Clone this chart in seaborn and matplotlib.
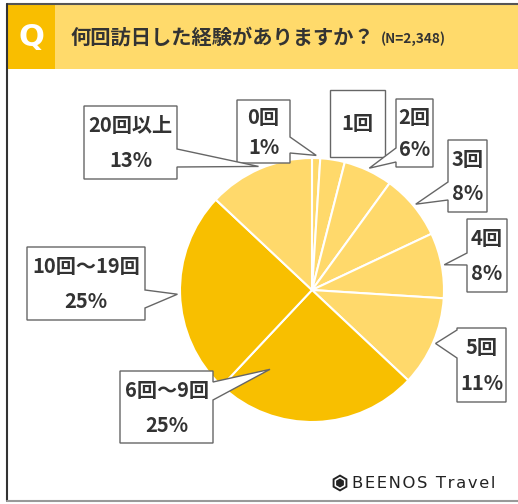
import numpy as np
import matplotlib
matplotlib.use("Agg")
import matplotlib.pyplot as plt
from matplotlib.patches import Polygon, Rectangle, RegularPolygon
import seaborn as sns

# -------------------------------
# Data
# -------------------------------
categories = ["0回", "1回", "2回", "3回", "4回", "5回", "6回〜9回", "10回〜19回", "20回以上"]
values = [1, 3, 6, 8, 8, 11, 25, 25, 13]
pct_labels = ["1%", "", "6%", "8%", "8%", "11%", "25%", "25%", "13%"]
title = "何回訪日した経験がありますか？"
sample_note = "(N=2,348)"

# styles
LIGHT = "#FFD96B"
DARK = "#F8BF00"
slice_colors = [LIGHT] * 6 + [DARK, DARK, LIGHT]
TEXT = "#333333"

sns.set_theme(style="white")
plt.rcParams["font.family"] = ["Noto Sans CJK JP", "DejaVu Sans"]

W, H = 518, 504
fig = plt.figure(figsize=(W / 100, H / 100), dpi=100)
fig.patch.set_facecolor("white")

# pie placement in pixels (centre and radius)
cx, cy, R = 312, 290, 132
ax = fig.add_axes([(cx - R) / W, (H - cy - R) / H, 2 * R / W, 2 * R / H])
wedges, _ = ax.pie(values, colors=slice_colors, startangle=90, counterclock=False,
                   wedgeprops=dict(edgecolor="white", linewidth=1.5))
ax.set_xlim(-1, 1)
ax.set_ylim(-1, 1)

# overlay axes in pixel coordinates for header, callouts and logo
ov = fig.add_axes([0, 0, 1, 1])
ov.set_xlim(0, W)
ov.set_ylim(H, 0)
ov.axis("off")
ov.patch.set_alpha(0)

# -------------------------------
# Header
# -------------------------------
ov.add_patch(Rectangle((7, 4), W - 7, 65, facecolor="#FFDA6B", edgecolor="none"))
ov.add_patch(Rectangle((7, 4), 48, 65, facecolor="#F9BE00", edgecolor="none"))
ov.plot([7, W], [4, 4], color="#555555", lw=1.5)
ov.plot([7, 7], [4, 501], color="#333333", lw=1.5)
ov.plot([7, W], [501, 501], color="#999999", lw=1.5)
ov.text(31, 37, "Q", color="white", fontsize=22, fontweight="bold",
        ha="center", va="center", family=["DejaVu Sans"])
ov.text(71, 37, title, color=TEXT, fontsize=14.6, fontweight="bold",
        ha="left", va="center")
ov.text(381, 39, sample_note, color=TEXT, fontsize=9.8, fontweight="bold",
        ha="left", va="center")

# -------------------------------
# Callout boxes: box (x0, y0, x1, y1), pointer side, pointer base, tip radius, tip fraction
# -------------------------------
callouts = {
    "20回以上": (84, 106, 177, 179, "right", 149, 167, 1.02, 0.5),
    "10回〜19回": (27, 247, 145, 320, "right", 290, 308, 1.02, 0.5),
    "6回〜9回": (120, 371, 213, 443, "right", 382, 400, 0.68, 0.17),
    "0回": (237, 100, 290, 163, "right", 137, 153, 1.02, 0.5),
    "1回": (330, 90, 385, 157, None, 0, 0, 1.0, 0.5),
    "2回": (396, 99, 433, 167, "left", 148, 162, 1.02, 0.5),
    "3回": (448, 140, 487, 212, "left", 182, 200, 1.02, 0.5),
    "4回": (467, 219, 507, 292, "left", 253, 265, 1.02, 0.5),
    "5回": (457, 328, 506, 402, "left", 330, 358, 1.02, 0.5),
}

for cat, pct, w in zip(categories, pct_labels, wedges):
    x0, y0, x1, y1, side, b0, b1, rr, frac = callouts[cat]
    a = np.deg2rad(w.theta1 + frac * (w.theta2 - w.theta1))
    tx = cx + R * rr * np.cos(a)
    ty = cy - R * rr * np.sin(a)
    if side == "right":
        pts = [(x0, y0), (x1, y0), (x1, b0), (tx, ty), (x1, b1), (x1, y1), (x0, y1)]
    elif side == "left":
        pts = [(x0, y0), (x1, y0), (x1, y1), (x0, y1), (x0, b1), (tx, ty), (x0, b0)]
    else:
        pts = [(x0, y0), (x1, y0), (x1, y1), (x0, y1)]
    ov.add_patch(Polygon(pts, closed=True, facecolor="white", edgecolor="#666666",
                         lw=1.0, joinstyle="miter"))
    xm = (x0 + x1) / 2
    if pct:
        ov.text(xm, y0 + (y1 - y0) * 0.27, cat, color=TEXT, fontsize=14.5,
                fontweight="bold", ha="center", va="center")
        ov.text(xm, y0 + (y1 - y0) * 0.75, pct, color=TEXT, fontsize=14.5,
                fontweight="bold", ha="center", va="center")
    else:
        ov.text(xm, (y0 + y1) / 2, cat, color=TEXT, fontsize=14.5,
                fontweight="bold", ha="center", va="center")

# -------------------------------
# Logo
# -------------------------------
ov.add_patch(RegularPolygon((340, 483), 6, radius=8.5, facecolor="#222222", edgecolor="none"))
ov.add_patch(RegularPolygon((340, 483), 6, radius=6.3, facecolor="white", edgecolor="none"))
ov.add_patch(RegularPolygon((340, 483), 6, radius=4.5, facecolor="#222222", edgecolor="none"))
ov.text(352, 484, "\u200a".join("BEENOS Travel"), color="#222222", fontsize=11.8,
        ha="left", va="center", family=["DejaVu Sans"])

fig.savefig("out.png", dpi=100)
plt.close()
